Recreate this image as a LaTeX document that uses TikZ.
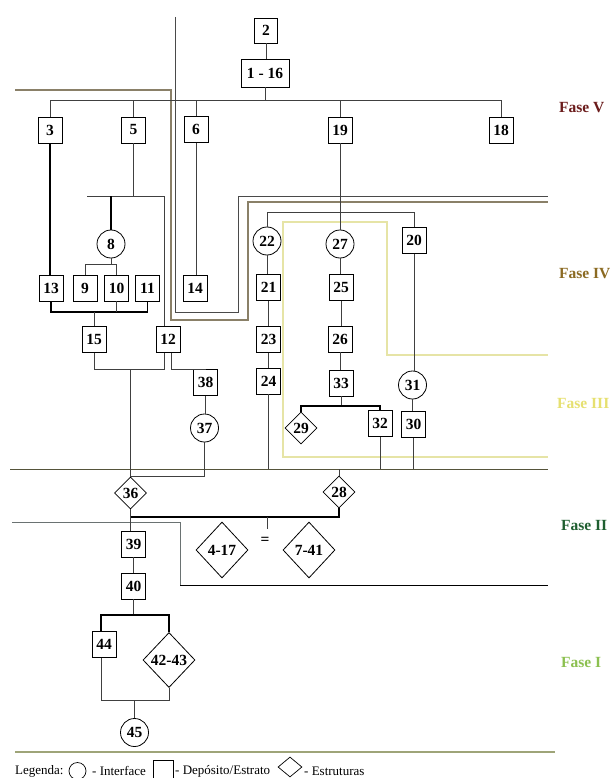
\documentclass[tikz,border=0pt]{standalone}
\usepackage{fontspec}
\setmainfont{Liberation Serif}
\usetikzlibrary{shapes.geometric}
\definecolor{faseV}{HTML}{6B1C1C}
\definecolor{faseIV}{HTML}{8B6A22}
\definecolor{faseIII}{HTML}{E6E070}
\definecolor{faseII}{HTML}{1F5F30}
\definecolor{faseI}{HTML}{8CC050}
\definecolor{darkline}{HTML}{4A4A4A}
\definecolor{brownline}{HTML}{8A8068}
\definecolor{yellowline}{HTML}{E6E4A6}
\definecolor{oliveline}{HTML}{55533A}
\definecolor{grayline}{HTML}{6A7272}
\definecolor{bottomline}{HTML}{9EA478}
\begin{document}
\begin{tikzpicture}[x=1pt,y=-1pt,
  num/.style={font=\fontsize{15.5}{15.5}\selectfont\bfseries, inner sep=0pt},
  ctx/.style={num, draw, line width=0.9pt, minimum width=24pt, minimum height=26pt, fill=white},
  cut/.style={num, circle, draw, line width=0.8pt, minimum size=28pt, fill=white},
  feat/.style={num, diamond, draw, line width=0.8pt, minimum width=32pt, minimum height=32pt, fill=white},
  link/.style={draw=black!75, line width=0.7pt},
  heavy/.style={draw=black, line width=1.3pt},
  phase/.style={font=\fontsize{15.5}{15.5}\selectfont\bfseries, anchor=west, inner sep=0pt},
  legtxt/.style={font=\fontsize{13}{13}\selectfont, anchor=west, inner sep=0pt}]
\useasboundingbox (0,0) rectangle (613,778);

% phase boundary lines
\draw[darkline, line width=0.8pt] (175,17) -- (175,312) -- (238,312) -- (238,196) -- (548,196);
\draw[brownline, line width=1.1pt] (15,90) -- (171,90) -- (171,320) -- (248,320) -- (248,202) -- (548,202);
\draw[yellowline, line width=1.2pt] (548,355) -- (387,355) -- (387,222) -- (283,222) -- (283,457) -- (548,457);
\draw[oliveline, line width=0.8pt] (10,469) -- (548,469);
\draw[grayline, line width=0.9pt] (12,522) -- (180,522) -- (180,585);
\draw[black, line width=1pt] (180,585) -- (548,585);
\draw[bottomline, line width=1.2pt] (15,752) -- (555,752);

% bracket coordinates
\coordinate (topL) at (50,100);
\coordinate (topR) at (501,100);
\coordinate (b5L) at (87,196);
\coordinate (b5R) at (164,196);
\coordinate (b8) at (85,264);
\coordinate (b13) at (51,312);
\coordinate (b15) at (130.5,369);
\coordinate (b22) at (266.5,212);
\coordinate (b33) at (300,406);
\coordinate (bIII) at (0,469);
\coordinate (b36) at (0,517);
\coordinate (tick) at (267,529);
\coordinate (b40) at (0,615);
\coordinate (b44) at (0,700);

% nodes
\node[ctx, minimum width=23pt, minimum height=25pt] (n2) at (266,30.5) {2};
\node[ctx, minimum width=48pt, minimum height=28pt] (n116) at (265,73) {1 - 16};
\node[ctx] (n3) at (50,130) {3};
\node[ctx] (n5) at (133.5,130) {5};
\node[ctx] (n6) at (196,129.5) {6};
\node[ctx] (n19) at (340,130) {19};
\node[ctx] (n18) at (501,130) {18};
\node[cut] (n8) at (111,244) {8};
\node[ctx] (n13) at (51,288) {13};
\node[ctx] (n9) at (85,288) {9};
\node[ctx] (n10) at (116.5,288) {10};
\node[ctx] (n11) at (147.5,288) {11};
\node[ctx] (n14) at (195,288) {14};
\node[ctx] (n15) at (94,339.5) {15};
\node[ctx] (n12) at (168,339.5) {12};
\node[cut] (n22) at (267,241) {22};
\node[ctx] (n21) at (268.5,287.5) {21};
\node[ctx] (n23) at (268.5,339.5) {23};
\node[ctx] (n24) at (268.5,381) {24};
\node[cut] (n27) at (340,244) {27};
\node[ctx] (n25) at (341,287.5) {25};
\node[ctx] (n26) at (340,339) {26};
\node[ctx] (n33) at (341,383) {33};
\node[ctx] (n20) at (414,240.5) {20};
\node[cut] (n31) at (412.5,385) {31};
\node[ctx] (n30) at (413.5,424.5) {30};
\node[ctx] (n32) at (380,423.5) {32};
\node[feat] (n29) at (301,428) {29};
\node[ctx] (n38) at (205.5,382.5) {38};
\node[cut] (n37) at (204.5,428) {37};
\node[feat] (n36) at (130.5,493) {36};
\node[feat] (n28) at (339,492) {28};
\node[ctx] (n39) at (133.5,544) {39};
\node[ctx] (n40) at (133.5,586) {40};
\node[feat, minimum width=52pt, minimum height=56pt] (n417) at (222,550) {4-17};
\node[num] (eq) at (265,541) {=};
\node[feat, minimum width=52pt, minimum height=56pt] (n741) at (309,550) {7-41};
\node[ctx] (n44) at (104,644.5) {44};
\node[feat, minimum width=52pt, minimum height=55pt] (n4243) at (169,660) {42-43};
\node[cut] (n45) at (134.5,732.5) {45};

% connectors
\draw[link] (n2.south) -- (n2.south |- n116.north);
\draw[link] (n116.south) -- (n116.south |- topL);
\draw[link] (n3.north) |- (topR) -- (n18.north);
\draw[link] (n5.north) -- (n5.north |- topL);
\draw[link] (n6.north) -- (n6.north |- topL);
\draw[link] (n19.north) -- (n19.north |- topL);
\draw[heavy] (n3.south) -- (n3.south |- n13.north);
\draw[link] (n5.south) -- (n5.south |- b5L);
\draw[link] (b5L) -- (b5R) -- (b5R |- n12.north);
\draw[heavy] (n8.north) -- (n8.north |- b5L);
\draw[link] (n8.south) -- (n8.south |- b8);
\draw[link] (n9.north) |- (n10.north |- b8) -- (n10.north);
\draw[heavy] (n13.south) |- (n11.south |- b13) -- (n11.south);
\draw[link] (n10.south) -- (n10.south |- b13);
\draw[link] (n15.north) -- (n15.north |- b13);
\draw[link] (n6.south) -- (n6.south |- n14.north);
\draw[link] (n15.south) |- (b5R |- b15) -- (b5R |- n12.south);
\draw[link] (b15) -- (n36.north);
\draw[link] ([xshift=3pt]n12.south) |- (n38.north);
\draw[link] (n38.south) -- (n38.south |- n37.north);
\draw[link] (n37.south) |- (n36.north);
\draw[link] (n36.south) -- (n36.south |- n39.north);
\draw[heavy] (n36.south |- b36) -| (n28.south);
\draw[link] (tick |- b36) -- (tick);
\draw[link] (n28.north) -- (n28.north |- bIII);
\draw[link] (n19.south) -- (n19.south |- n27.north);
\draw[link] (n27.south) -- (n27.south |- n25.north);
\draw[link] (n25.south) -- (n25.south |- n26.north);
\draw[link] (n26.south) -- (n26.south |- n33.north);
\draw[link] (n33.south) -- (n33.south |- b33);
\draw[heavy] (n29.north) |- (n32.north |- b33) -- (n32.north);
\draw[link] (n32.south) -- (n32.south |- bIII);
\draw[link] (n22.north) |- (n20.north |- b22) -- (n20.north);
\draw[link] (n22.south) -- (n22.south |- n21.north);
\draw[link] (n21.south) -- (n21.south |- n23.north);
\draw[link] (n23.south) -- (n23.south |- n24.north);
\draw[link] (n24.south) -- (n24.south |- bIII);
\draw[link] (n20.south) -- (n20.south |- n31.north);
\draw[link] (n31.south) -- (n31.south |- n30.north);
\draw[link] (n30.south) -- (n30.south |- bIII);
\draw[link] (n39.south) -- (n39.south |- n40.north);
\draw[link] (n40.south) -- (n40.south |- b40);
\draw[heavy] ([xshift=-3pt]n44.north) |- (n4243.north |- b40) -- (n4243.north);
\draw[link] ([xshift=-3pt]n44.south) |- (n4243.south |- b44) -- (n4243.south);
\draw[link] (n45.north) -- (n45.north |- b44);

% phase labels
\node[phase, text=faseV] (fV) at (559,108) {Fase V};
\node[phase, text=faseIV] (fIV) at (559,274) {Fase IV};
\node[phase, text=faseIII] (fIII) at (557,403) {Fase III};
\node[phase, text=faseII] (fII) at (561,525) {Fase II};
\node[phase, text=faseI] (fI) at (561,662) {Fase I};

% legend
\node[legtxt] (lg) at (15,771) {Legenda:};
\node[circle, draw, line width=0.7pt, minimum size=17pt, inner sep=0pt] (lgc) at (77.5,771) {};
\node[legtxt] (lgt1) at (92,771) {- Interface};
\node[draw, line width=0.7pt, minimum width=20pt, minimum height=19pt, inner sep=0pt] (lgb) at (163,770) {};
\node[legtxt] (lgt2) at (175,771) {- Depósito/Estrato};
\node[diamond, draw, line width=0.7pt, minimum width=24pt, minimum height=20pt, inner sep=0pt] (lgd) at (290,767) {};
\node[legtxt] (lgt3) at (304,771) {- Estruturas};
\end{tikzpicture}
\end{document}
